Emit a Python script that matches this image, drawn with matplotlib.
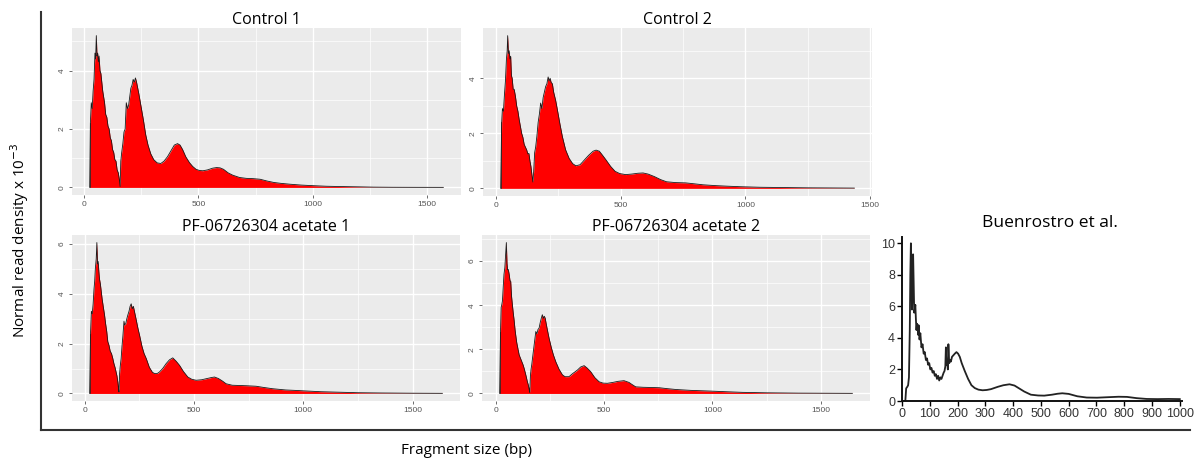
import matplotlib
matplotlib.use('Agg')
import matplotlib.pyplot as plt
from matplotlib.lines import Line2D
from matplotlib.ticker import MultipleLocator
import numpy as np

# fragment size (bp) / density x 10^-3
ctrl1_x = [25, 28, 32, 36, 40, 44, 48, 51, 54, 57, 60, 63, 66, 70, 74, 78, 82, 86, 90, 95,
           100, 105, 110, 115, 120, 125, 130, 135, 140, 145, 150, 155, 158, 161, 165, 170,
           175, 180, 185, 190, 195, 200, 205, 210, 215, 220, 225, 230, 235, 240, 250, 260,
           270, 280, 292, 305, 320, 336, 350, 365, 380, 395, 409, 420, 431, 445, 461, 475,
           490, 505, 520, 540, 563, 580, 595, 610, 630, 650, 680, 710, 740, 770, 800, 830,
           860, 900, 950, 1000, 1060, 1120, 1200, 1265, 1350, 1450, 1571]
ctrl1_y = [0, 2.2, 2.9, 2.7, 3.3, 3.7, 4.6, 4.4, 5.2, 4.5, 4.6, 4.3, 4.5, 4.0, 3.9, 3.6, 3.3,
           3.1, 2.9, 2.5, 2.4, 2.1, 2.0, 1.7, 1.6, 1.3, 1.2, 0.95, 0.9, 0.6, 0.5, 0.25, 0.03,
           0.9, 1.2, 1.5, 1.9, 2.0, 2.9, 2.7, 2.8, 3.1, 3.4, 3.5, 3.7, 3.6, 3.75, 3.6, 3.4,
           3.2, 2.75, 2.3, 1.8, 1.45, 1.15, 0.95, 0.84, 0.82, 0.9, 1.05, 1.25, 1.45, 1.5,
           1.45, 1.3, 1.05, 0.85, 0.72, 0.62, 0.58, 0.57, 0.6, 0.66, 0.68, 0.67, 0.62, 0.5,
           0.42, 0.34, 0.31, 0.3, 0.28, 0.22, 0.17, 0.14, 0.11, 0.08, 0.06, 0.04, 0.03, 0.02,
           0.01, 0.005, 0.003, 0.002]

ctrl2_x = [20, 24, 27, 31, 35, 39, 43, 46, 48, 51, 54, 57, 60, 63, 66, 70, 74, 79, 84, 89,
           94, 99, 104, 109, 114, 119, 124, 129, 133, 137, 141, 145, 149, 152, 156, 160,
           165, 170, 175, 180, 185, 190, 195, 200, 205, 210, 214, 218, 222, 227, 232, 240,
           247, 257, 267, 280, 294, 308, 321, 338, 355, 372, 390, 402, 415, 428, 442, 460,
           478, 496, 520, 545, 570, 590, 610, 635, 660, 684, 720, 760, 791, 830, 880, 926,
           980, 1060, 1150, 1250, 1350, 1436]
ctrl2_y = [0, 2.4, 2.9, 2.8, 3.4, 3.9, 4.7, 5.0, 5.55, 4.9, 5.0, 4.7, 4.8, 4.1, 4.0, 3.6,
           3.6, 3.35, 3.0, 2.8, 2.5, 2.25, 2.0, 1.85, 1.6, 1.5, 1.4, 1.25, 1.27, 1.0, 0.8,
           0.5, 0.23, 0.6, 1.3, 1.5, 1.9, 2.4, 2.7, 3.1, 2.9, 3.3, 3.5, 3.7, 3.8, 4.05, 3.9,
           4.0, 3.85, 3.8, 3.5, 3.2, 2.86, 2.35, 1.88, 1.4, 1.09, 0.9, 0.82, 0.86, 1.03, 1.2,
           1.35, 1.39, 1.35, 1.2, 1.03, 0.8, 0.62, 0.54, 0.5, 0.52, 0.55, 0.56, 0.52, 0.43,
           0.32, 0.24, 0.21, 0.2, 0.17, 0.13, 0.1, 0.08, 0.06, 0.04, 0.03, 0.02, 0.015, 0.01]

pf1_x = [23, 27, 31, 35, 39, 43, 46, 49, 53, 56, 59, 62, 65, 68, 72, 76, 80, 85, 91, 96,
         101, 106, 111, 117, 123, 129, 134, 139, 144, 148, 152, 155, 157, 160, 163, 167,
         171, 175, 180, 183, 188, 193, 198, 203, 208, 213, 218, 223, 228, 235, 243, 251,
         262, 272, 282, 296, 310, 320, 332, 342, 357, 373, 388, 403, 418, 434, 452, 472,
         490, 510, 535, 560, 580, 594, 612, 630, 647, 675, 708, 740, 784, 820, 860, 920,
         970, 1012, 1080, 1164, 1250, 1350, 1500, 1636]
pf1_y = [0, 2.4, 3.3, 3.2, 3.6, 4.2, 4.5, 5.0, 5.4, 6.06, 5.2, 5.3, 4.91, 4.6, 4.4, 4.1,
         3.8, 3.5, 3.16, 2.8, 2.5, 2.08, 1.95, 1.7, 1.6, 1.4, 1.2, 1.05, 0.86, 0.7, 0.45,
         0.2, 0.06, 0.8, 1.1, 1.4, 1.9, 2.3, 2.9, 2.75, 2.8, 3.0, 3.16, 3.3, 3.5, 3.6, 3.4,
         3.5, 3.29, 3.0, 2.65, 2.35, 1.9, 1.6, 1.4, 1.05, 0.85, 0.8, 0.8, 0.86, 1.0, 1.2,
         1.35, 1.43, 1.3, 1.13, 0.88, 0.66, 0.57, 0.53, 0.55, 0.6, 0.64, 0.66, 0.6, 0.5,
         0.39, 0.33, 0.32, 0.31, 0.29, 0.24, 0.19, 0.14, 0.12, 0.1, 0.07, 0.05, 0.03, 0.02,
         0.01, 0.005]

pf2_x = [18, 22, 25, 28, 31, 35, 38, 42, 45, 49, 52, 55, 58, 62, 66, 69, 73, 77, 80, 85,
         89, 92, 97, 103, 108, 114, 120, 126, 131, 136, 141, 146, 150, 154, 157, 160, 163,
         166, 171, 176, 181, 185, 190, 195, 200, 205, 210, 215, 220, 224, 228, 234, 240,
         246, 256, 266, 277, 292, 308, 320, 338, 355, 377, 392, 408, 422, 438, 457, 477,
         495, 515, 540, 565, 592, 615, 630, 646, 680, 720, 754, 790, 831, 900, 985, 1060,
         1138, 1250, 1400, 1646]
pf2_y = [0, 2.8, 3.9, 4.03, 4.2, 4.9, 5.4, 5.7, 6.2, 6.84, 5.9, 5.6, 5.62, 5.4, 5.1, 5.09,
         4.4, 4.0, 3.72, 3.3, 2.9, 2.66, 2.3, 2.0, 1.75, 1.6, 1.45, 1.3, 1.14, 0.95, 0.75,
         0.53, 0.4, 0.2, 0.05, 0.8, 1.1, 1.29, 1.7, 2.1, 2.5, 2.81, 2.7, 2.9, 2.96, 3.2,
         3.4, 3.57, 3.4, 3.5, 3.42, 3.1, 2.8, 2.51, 2.1, 1.75, 1.44, 1.1, 0.84, 0.76, 0.76,
         0.9, 1.06, 1.2, 1.26, 1.15, 0.99, 0.72, 0.53, 0.47, 0.46, 0.5, 0.55, 0.58, 0.5,
         0.4, 0.3, 0.28, 0.27, 0.26, 0.22, 0.18, 0.14, 0.11, 0.08, 0.05, 0.03, 0.015, 0.005]

# Buenrostro et al. reference trace
buen_x = [0, 12, 15, 19, 22, 25, 28, 30, 32, 34, 36, 38, 40, 42, 44, 46, 48, 50, 52, 54,
          56, 58, 60, 63, 66, 70, 74, 78, 82, 86, 90, 94, 98, 102, 106, 110, 114, 118, 122,
          126, 130, 134, 138, 142, 146, 150, 153, 156, 158, 160, 163, 165, 167, 170, 173,
          176, 180, 185, 190, 196, 202, 208, 215, 226, 238, 250, 262, 275, 290, 305, 320,
          345, 365, 387, 405, 417, 440, 464, 490, 512, 540, 560, 577, 600, 631, 665, 702,
          740, 780, 810, 845, 881, 920, 960, 1000]
buen_y = [0, 0, 0.8, 0.9, 1.0, 1.5, 4.5, 8.0, 10.0, 8.5, 5.8, 7.0, 9.3, 7.5, 5.6, 5.8, 6.1,
          5.2, 4.5, 4.9, 4.8, 4.2, 4.8, 3.9, 4.3, 3.4, 3.6, 3.0, 3.1, 2.6, 2.7, 2.3, 2.4,
          2.0, 2.1, 1.8, 1.9, 1.6, 1.7, 1.4, 1.6, 1.3, 1.5, 1.4, 1.6, 1.8, 1.9, 2.2, 3.4,
          2.3, 2.5, 2.0, 3.6, 2.4, 2.6, 2.5, 2.8, 2.9, 3.0, 3.1, 3.0, 2.8, 2.4, 1.9, 1.4,
          1.0, 0.82, 0.72, 0.68, 0.7, 0.75, 0.9, 1.0, 1.06, 0.98, 0.85, 0.6, 0.4, 0.35,
          0.34, 0.4, 0.46, 0.49, 0.45, 0.3, 0.22, 0.21, 0.24, 0.27, 0.26, 0.18, 0.13, 0.12,
          0.13, 0.12]

panels = [
    ("Control 1", ctrl1_x, ctrl1_y, (72, 28, 461, 195), [0, 2, 4]),
    ("Control 2", ctrl2_x, ctrl2_y, (483, 28, 872, 196), [0, 2, 4]),
    ("PF-06726304 acetate 1", pf1_x, pf1_y, (72, 235, 460, 401), [0, 2, 4, 6]),
    ("PF-06726304 acetate 2", pf2_x, pf2_y, (482, 235, 870, 401), [0, 2, 4, 6]),
]

W, H = 1201, 465
fig = plt.figure(figsize=(W / 100, H / 100), dpi=100)
fig.patch.set_facecolor('white')


def px_rect(x0, y0, x1, y1):
    return [x0 / W, 1 - y1 / H, (x1 - x0) / W, (y1 - y0) / H]


title_font = ['Open Sans', 'DejaVu Sans']
tick_font = ['Liberation Sans', 'DejaVu Sans']

for title, xs, ys, box, yt in panels:
    ax = fig.add_axes(px_rect(*box))
    xs = np.array(xs)
    ys = np.array(ys)
    ax.set_facecolor('#EBEBEB')
    ax.fill_between(xs, 0, ys, color='#FF0000', lw=0, zorder=3)
    ax.plot(xs, ys, color='#1a1a1a', lw=0.6, zorder=4)
    ax.plot([xs[0], xs[0]], [0, ys[1]], color='#1a1a1a', lw=0.5, zorder=4)
    span = xs.max() - xs.min()
    ax.set_xlim(xs.min() - 0.05 * span, xs.max() + 0.05 * span)
    ax.set_ylim(-0.05 * max(ys), 1.05 * max(ys))
    ax.set_xticks([0, 500, 1000, 1500])
    ax.set_yticks(yt)
    ax.xaxis.set_minor_locator(MultipleLocator(250))
    ax.yaxis.set_minor_locator(MultipleLocator(1))
    ax.grid(which='major', color='white', lw=1.0, zorder=0)
    ax.grid(which='minor', color='white', lw=0.5, zorder=0)
    ax.set_axisbelow(True)
    for s in ax.spines.values():
        s.set_visible(False)
    ax.tick_params(which='major', length=2.5, width=0.6, color='#555555',
                   labelsize=6, labelcolor='#555555', pad=2)
    ax.tick_params(which='minor', length=0)
    for lab in ax.get_xticklabels():
        lab.set_family(tick_font)
    for lab in ax.get_yticklabels():
        lab.set_family(tick_font)
        lab.set_rotation(90)
        lab.set_va('center')
    ax.set_title(title, fontsize=11.5, family=title_font, pad=3)

# reference panel
bx = fig.add_axes(px_rect(902, 237, 1182, 401))
bx.plot(buen_x, buen_y, color='#222222', lw=1.3)
bx.set_xlim(0, 1008)
bx.set_ylim(0, 10.4)
bx.set_xticks(np.arange(0, 1001, 100))
bx.set_yticks([0, 2, 4, 6, 8, 10])
for side in ['top', 'right']:
    bx.spines[side].set_visible(False)
for side in ['left', 'bottom']:
    bx.spines[side].set_linewidth(1.4)
    bx.spines[side].set_color('#111111')
bx.tick_params(length=3.5, width=1.0, labelsize=9, labelcolor='#333333', pad=1.5)
for lab in bx.get_xticklabels() + bx.get_yticklabels():
    lab.set_family(tick_font)
fig.text(1050 / W, 1 - 223 / H, "Buenrostro et al.", fontsize=12.5,
         family=title_font, ha='center', va='center')

# outer frame and shared labels
fig.add_artist(Line2D([41 / W, 41 / W], [1 - 12 / H, 1 - 430 / H],
                      color='#333333', lw=1.5))
fig.add_artist(Line2D([41 / W, 1190 / W], [1 - 430 / H, 1 - 430 / H],
                      color='#333333', lw=1.5))
fig.text(20 / W, 1 - 240 / H, "Normal read density x 10$^{-3}$", rotation=90,
         fontsize=11, family=title_font, ha='center', va='center')
fig.text(467 / W, 1 - 450 / H, "Fragment size (bp)", fontsize=11,
         family=title_font, ha='center', va='center')

fig.savefig('out.png', dpi=100)
